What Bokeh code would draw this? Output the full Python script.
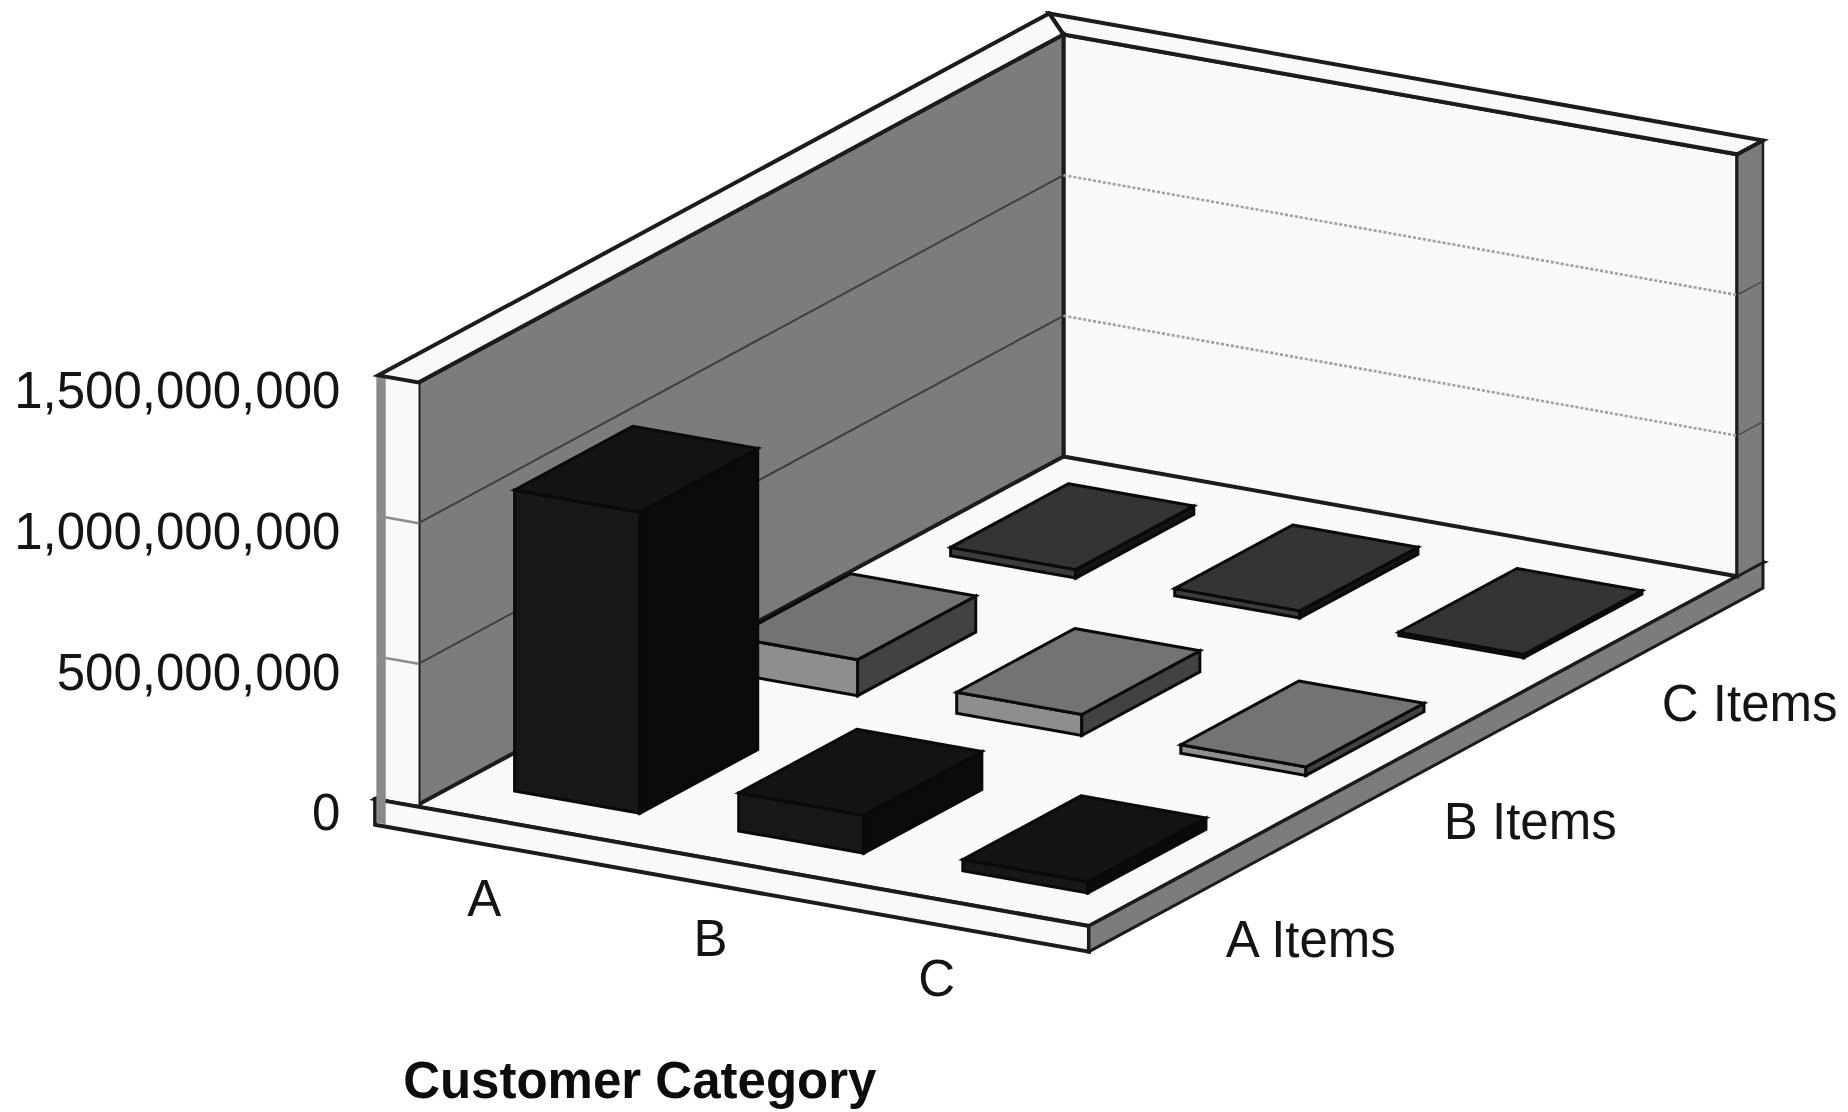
from bokeh.core.properties import value
from bokeh.embed import file_html
from bokeh.models import ColumnDataSource, Range1d
from bokeh.plotting import figure
from bokeh.resources import INLINE

# Sales volume by customer category (columns) and item class (rows)
customer_categories = ["A", "B", "C"]
item_classes = ["A Items", "B Items", "C Items"]
a_items = [1_070_000_000, 135_000_000, 40_000_000]
b_items = [128_000_000, 75_000_000, 30_000_000]
c_items = [30_000_000, 25_000_000, 12_000_000]
tick_values = [0, 500_000_000, 1_000_000_000, 1_500_000_000]
tick_labels = ["0", "500,000,000", "1,000,000,000", "1,500,000,000"]
axis_title = "Customer Category"

# Oblique projection: u runs along the category axis, v towards the viewer, h is the value
ORIGIN = (1063.0, 456.0)
U_AXIS = (669.0, 119.0)
V_AXIS = (-645.0, 348.0)
PX_PER_UNIT = 422.0 / 1_500_000_000
H_MAX = tick_values[-1]
SLAB = 91_000_000
WALL_U = -0.06
WALL_V = -0.04
WALL_END = 1.007
FLOOR_U = 1.007
FLOOR_V = 1.005
CELL_START = 0.08
CELL_STEP = 0.335
CELL_V_START = 0.075
CELL_V_STEP = 0.338
BAR_U_SIZE = 0.187
BAR_V_SIZE = 0.183

WHITE = "#f9f9f9"
WALL_GREY = "#7c7c7c"
EDGE = "#1c1c1c"
# (top, left, right) shades for each item class, front row first
ROW_SHADES = [
    ("#131313", "#171717", "#0b0b0b"),
    ("#737373", "#8e8e8e", "#424242"),
    ("#343434", "#3c3c3c", "#141414"),
]


def project(u, v, h=0.0):
    x = ORIGIN[0] + u * U_AXIS[0] + v * V_AXIS[0]
    y = ORIGIN[1] + u * U_AXIS[1] + v * V_AXIS[1] - h * PX_PER_UNIT
    return x, y


def face(points):
    coords = [project(*pt) for pt in points]
    return [c[0] for c in coords], [c[1] for c in coords]


xs, ys, fills, widths = [], [], [], []


def add_face(points, fill, width=3.0):
    fx, fy = face(points)
    xs.append(fx)
    ys.append(fy)
    fills.append(fill)
    widths.append(width)


# Floor slab
add_face([(WALL_U, WALL_V), (FLOOR_U, WALL_V), (FLOOR_U, FLOOR_V), (WALL_U, FLOOR_V)], WHITE, 4)
add_face([(WALL_U, FLOOR_V), (FLOOR_U, FLOOR_V), (FLOOR_U, FLOOR_V, -SLAB), (WALL_U, FLOOR_V, -SLAB)], WHITE, 4)
add_face([(FLOOR_U, FLOOR_V), (FLOOR_U, WALL_V), (FLOOR_U, WALL_V, -SLAB), (FLOOR_U, FLOOR_V, -SLAB)], WALL_GREY, 3)

# Back wall, its end cap and its top
add_face([(0, 0), (WALL_END, 0), (WALL_END, 0, H_MAX), (0, 0, H_MAX)], WHITE, 4)
add_face([(WALL_END, 0), (WALL_END, WALL_V), (WALL_END, WALL_V, H_MAX), (WALL_END, 0, H_MAX)], WALL_GREY, 2.5)
add_face([(WALL_U, WALL_V, H_MAX), (WALL_END, WALL_V, H_MAX), (WALL_END, 0, H_MAX), (0, 0, H_MAX)], WHITE, 4)

# Left wall, its end cap and its top
add_face([(0, 0), (0, 1), (0, 1, H_MAX), (0, 0, H_MAX)], WALL_GREY, 4)
add_face([(WALL_U, 1), (0, 1), (0, 1, H_MAX), (WALL_U, 1, H_MAX)], WHITE, 0)
strip_u = WALL_U - 0.003
add_face([(strip_u, 1, -SLAB), (WALL_U + 0.011, 1, -SLAB), (WALL_U + 0.011, 1, H_MAX), (strip_u, 1, H_MAX)], "#8a8a8a", 0)
add_face([(WALL_U, WALL_V, H_MAX), (0, 0, H_MAX), (0, 1, H_MAX), (WALL_U, 1, H_MAX)], WHITE, 4)

# Bars, painted from the back row forwards and left to right
rows = [a_items, b_items, c_items]
bar_faces = []
for row_pos in [2, 1, 0]:
    top_c, left_c, right_c = ROW_SHADES[row_pos]
    v0 = CELL_V_START + (2 - row_pos) * CELL_V_STEP
    v1 = v0 + BAR_V_SIZE
    for col_pos, val in enumerate(rows[row_pos]):
        u0 = CELL_START + col_pos * CELL_STEP
        u1 = u0 + BAR_U_SIZE
        bar_faces.append(([(u0, v1), (u1, v1), (u1, v1, val), (u0, v1, val)], left_c))
        bar_faces.append(([(u1, v1), (u1, v0), (u1, v0, val), (u1, v1, val)], right_c))
        bar_faces.append(([(u0, v0, val), (u1, v0, val), (u1, v1, val), (u0, v1, val)], top_c))

p = figure(
    width=1848,
    height=1112,
    x_range=Range1d(0, 1848),
    y_range=Range1d(1112, 0),
    x_axis_type=None,
    y_axis_type=None,
    toolbar_location=None,
    output_backend="svg",
    min_border=0,
    outline_line_color=None,
    background_fill_color="white",
    border_fill_color="white",
)
p.grid.visible = False

p.patches(
    "xs", "ys", source=ColumnDataSource(dict(xs=xs, ys=ys, fill=fills, lw=widths)),
    fill_color="fill", line_color=EDGE, line_width="lw", line_join="miter",
)

# Value gridlines on both walls and their ticks on the wall ends
left_x, left_y, cap_x, cap_y, back_x, back_y, end_x, end_y = [], [], [], [], [], [], [], []
for tick in tick_values[1:-1]:
    fx, fy = face([(0, 1, tick), (0, 0, tick)])
    left_x.append(fx)
    left_y.append(fy)
    fx, fy = face([(WALL_U, 1, tick), (0, 1, tick)])
    cap_x.append(fx)
    cap_y.append(fy)
    fx, fy = face([(0, 0, tick), (WALL_END, 0, tick)])
    back_x.append(fx)
    back_y.append(fy)
    fx, fy = face([(WALL_END, 0, tick), (WALL_END, WALL_V, tick)])
    end_x.append(fx)
    end_y.append(fy)
p.multi_line(left_x, left_y, line_color="#404040", line_width=2)
p.multi_line(cap_x, cap_y, line_color="#8c8c8c", line_width=2.5)
p.multi_line(back_x, back_y, line_color="#a0a0a0", line_width=2.6, line_dash="3 2")
p.multi_line(end_x, end_y, line_color="#4c4c4c", line_width=1.5)

bar_x, bar_y, bar_fill = [], [], []
for pts, colour in bar_faces:
    fx, fy = face(pts)
    bar_x.append(fx)
    bar_y.append(fy)
    bar_fill.append(colour)
p.patches(
    "xs", "ys", source=ColumnDataSource(dict(xs=bar_x, ys=bar_y, fill=bar_fill)),
    fill_color="fill", line_color="#0a0a0a", line_width=3, line_join="miter",
)

FONT = value("Liberation Sans")
TEXT_COLOR = "#141414"
TEXT_SIZE = "51px"

# Value labels sit just left of the front end of the left wall
tick_pos = [project(WALL_U, 1, t) for t in tick_values]
p.text(
    [pos[0] - 38 for pos in tick_pos], [pos[1] + 15 for pos in tick_pos], text=tick_labels,
    text_align="right", text_baseline="middle", text_font=FONT, text_font_size=TEXT_SIZE, text_color=TEXT_COLOR,
)

# Category labels below the front edge
cat_pos = [project(CELL_START + i * 0.338 + BAR_U_SIZE / 2, FLOOR_V, -SLAB) for i in range(3)]
p.text(
    [pos[0] - 47 for pos in cat_pos], [pos[1] + 46 for pos in cat_pos], text=customer_categories,
    text_align="center", text_baseline="middle", text_font=FONT, text_font_size=TEXT_SIZE, text_color=TEXT_COLOR,
)

# Item class labels to the right of the floor's side edge
row_pos_xy = [project(FLOOR_U, CELL_V_START + (2 - i) * CELL_V_STEP + BAR_V_SIZE / 2, -SLAB) for i in range(3)]
p.text(
    [pos[0] + 32 for pos in row_pos_xy], [pos[1] + 44 for pos in row_pos_xy], text=item_classes,
    text_align="left", text_baseline="middle", text_font=FONT, text_font_size=TEXT_SIZE, text_color=TEXT_COLOR,
)

title_anchor = project(WALL_U, FLOOR_V, -SLAB)
p.text(
    [title_anchor[0] + 28], [title_anchor[1] + 256], text=[axis_title],
    text_align="left", text_baseline="middle", text_font=FONT, text_font_size=TEXT_SIZE,
    text_font_style="bold", text_color="#0c0c0c",
)

with open("out.html", "w") as fh:
    fh.write(file_html(p, INLINE))
